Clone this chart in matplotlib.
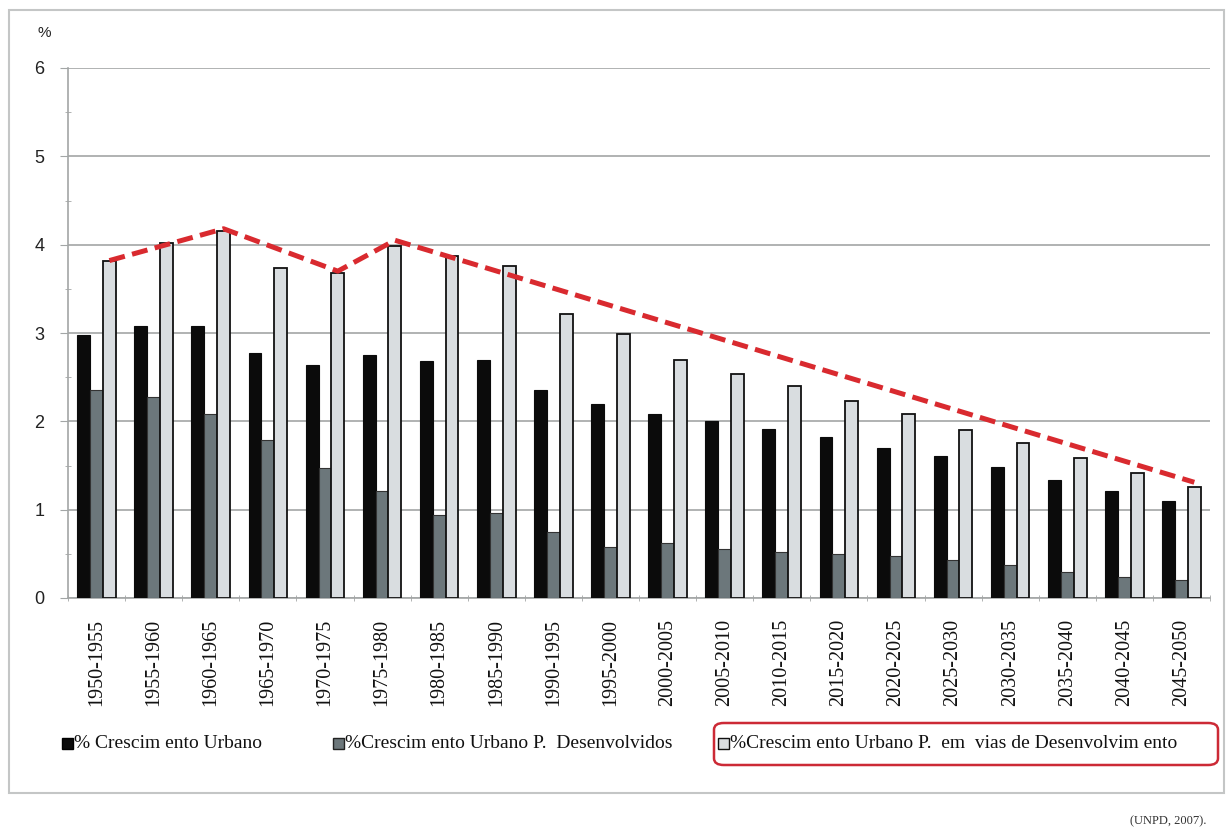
import numpy as np
import matplotlib.pyplot as plt
from matplotlib.patches import Rectangle, FancyBboxPatch

periods = ['1950-1955', '1955-1960', '1960-1965', '1965-1970', '1970-1975',
           '1975-1980', '1980-1985', '1985-1990', '1990-1995', '1995-2000',
           '2000-2005', '2005-2010', '2010-2015', '2015-2020', '2020-2025',
           '2025-2030', '2030-2035', '2035-2040', '2040-2045', '2045-2050']
urbano = [2.98, 3.08, 3.08, 2.77, 2.64, 2.75, 2.68, 2.70, 2.36, 2.20,
          2.08, 2.00, 1.91, 1.82, 1.70, 1.61, 1.48, 1.34, 1.21, 1.10]
desenvolvidos = [2.36, 2.28, 2.08, 1.79, 1.47, 1.21, 0.94, 0.96, 0.75, 0.58,
                 0.62, 0.55, 0.52, 0.50, 0.47, 0.43, 0.37, 0.30, 0.24, 0.20]
em_desenv = [3.82, 4.02, 4.16, 3.74, 3.68, 3.99, 3.87, 3.76, 3.21, 2.99,
             2.69, 2.54, 2.40, 2.23, 2.08, 1.90, 1.75, 1.58, 1.42, 1.26]
# red dashed trend line (vertices on groups)
trend_idx = [0, 2, 4, 5, 19]
trend_vals = [3.82, 4.18, 3.70, 4.05, 1.31]

labels = ['% Crescim ento Urbano', '%Crescim ento Urbano P.  Desenvolvidos',
          '%Crescim ento Urbano P.  em  vias de Desenvolvim ento']

W, H = 1226, 833
fig = plt.figure(figsize=(W / 100, H / 100), dpi=100)
fig.patch.set_facecolor('white')

# outer frame
fig.patches.append(Rectangle((9 / W, 1 - 793 / H), (1224 - 9) / W, (793 - 10) / H,
                             transform=fig.transFigure, fill=False,
                             edgecolor='#c4c6c6', linewidth=1.5))

ax = fig.add_axes([68 / W, 1 - 598 / H, (1210 - 68) / W, (598 - 68) / H])

x = np.arange(len(periods))
bw = 0.225
c_black, c_gray, c_light = '#0b0b0b', '#6c777b', '#d9dde0'
ax.bar(x - bw, urbano, bw, color=c_black, edgecolor=c_black, linewidth=0.8, zorder=3)
ax.bar(x, desenvolvidos, bw, color=c_gray, edgecolor='#333333', linewidth=0.8, zorder=3)
ax.bar(x + bw, em_desenv, bw, color=c_light, edgecolor='#111111', linewidth=1.3, zorder=3)

ax.plot(np.array(trend_idx) + bw, trend_vals, color='#d92a2f', linewidth=3.6,
        dashes=(3.2, 1.5), zorder=4)

ax.set_xlim(-0.5, len(periods) - 0.5)
ax.set_ylim(0, 6)
ax.set_yticks(range(7))
ax.set_yticks(np.arange(0.5, 6, 1.0), minor=True)
ax.grid(axis='y', color='#a3a6a6', linewidth=1.2, zorder=0)
for s in ['top', 'right']:
    ax.spines[s].set_visible(False)
ax.spines['left'].set_color('#a3a6a6')
ax.spines['bottom'].set_color('#a3a6a6')
ax.spines['left'].set_linewidth(1.2)
ax.spines['bottom'].set_linewidth(1.2)

ax.tick_params(axis='y', which='major', length=6, color='#a3a6a6', pad=11,
               labelsize=13, labelcolor='#222222')
ax.tick_params(axis='y', which='minor', length=4, direction='inout', color='#a3a6a6')
for t in ax.get_yticklabels():
    t.set_family('Liberation Sans')

ax.set_xticks(x)
ax.set_xticklabels(periods, rotation=90, family='Liberation Serif', fontsize=14.5,
                   color='#111111')
ax.set_xticks(np.arange(-0.5, len(periods), 1.0), minor=True)
ax.tick_params(axis='x', which='major', length=0, pad=15)
ax.tick_params(axis='x', which='minor', length=5, direction='inout', color='#a3a6a6')

fig.text(38 / W, 1 - 33 / H, '%', fontsize=11, family='Liberation Sans',
         color='#222222', ha='left', va='center')

# legend
ly = 1 - 743 / H
sq = 11
items = [(62, c_black, '#000000'), (333, c_gray, '#222222'), (718, c_light, '#111111')]
for (px, fc, ec), lab in zip(items, labels):
    fig.patches.append(Rectangle((px / W, ly - sq / 2 / H), sq / W, sq / H,
                                 transform=fig.transFigure, facecolor=fc,
                                 edgecolor=ec, linewidth=1))
    fig.text((px + sq + 1) / W, ly, lab, fontsize=14, family='Liberation Serif',
             ha='left', va='center', color='#111111')

fig.patches.append(FancyBboxPatch((714 / W, 1 - 765 / H), (1218 - 714) / W, (765 - 723) / H,
                                  boxstyle='round,pad=0,rounding_size=0.008',
                                  transform=fig.transFigure, fill=False,
                                  edgecolor='#cc2a36', linewidth=1.8))

fig.text(1207 / W, 1 - 821 / H, '(UNPD, 2007).', fontsize=9, family='Liberation Serif',
         ha='right', va='center', color='#333333')

fig.savefig('out.png', dpi=100)
